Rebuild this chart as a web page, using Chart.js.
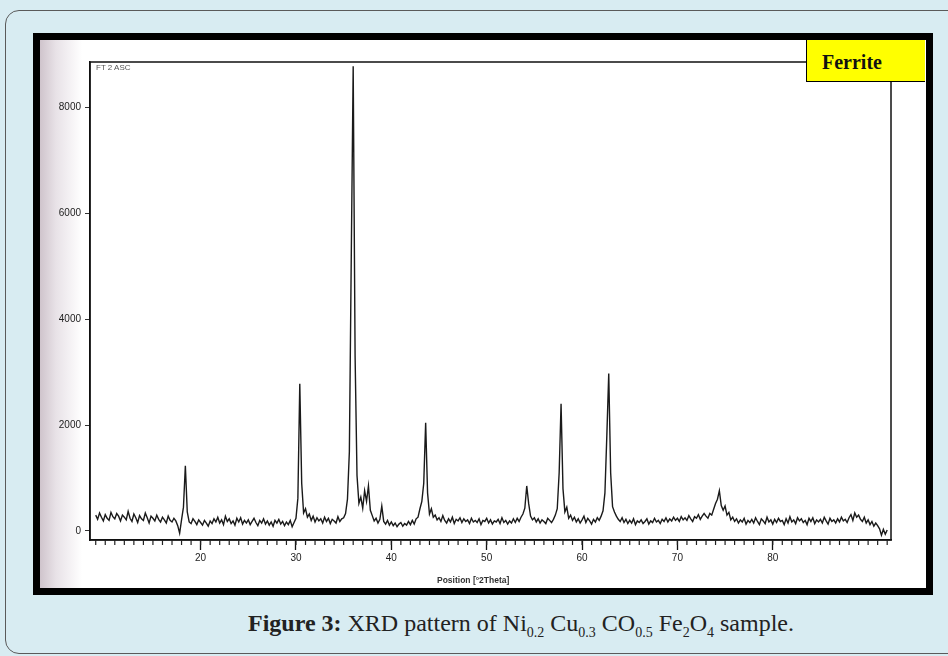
<!DOCTYPE html>
<html>
<head>
<meta charset="utf-8">
<script src="https://cdn.jsdelivr.net/npm/chart.js@4.4.1/dist/chart.umd.min.js"></script>
<style>
  body { margin:0; width:948px; height:656px; background:#d8ecf2; position:relative; overflow:hidden; }
  .card { position:absolute; left:5px; top:10px; width:970px; height:642px; border:1px solid #5a5a5a; border-radius:14px; }
  .frame { position:absolute; left:33px; top:33px; width:886px; height:548px; border:7px solid #000;
           background:linear-gradient(to right, #cfc4cc 0px, #e8e2e7 16px, #ffffff 42px); }
  #xrd { position:absolute; left:0; top:0; }
  .ferrite { position:absolute; left:766px; top:0px; width:119px; height:42px; background:#ffff00;
             border-left:1px solid #000; border-bottom:1px solid #000;
             font:bold 20px "Liberation Serif", serif; line-height:44px; padding-left:15px; box-sizing:border-box; color:#111; }
  .ft { position:absolute; left:56px; top:23px; font:8px "Liberation Sans", sans-serif; color:#555; }
  .xtitle { position:absolute; left:397px; top:535px; font:bold 8.5px "Liberation Sans", sans-serif; color:#333; }
  .caption { position:absolute; left:0; width:1042px; text-align:center; top:610px; font:24px "Liberation Serif", serif; color:#222; }
  .caption sub { font-size:14px; vertical-align:-6px; line-height:0; }
</style>
</head>
<body>
<div class="card"></div>
<div class="frame">
  <canvas id="xrd" width="886" height="548"></canvas>
  <div class="ft">FT 2 ASC</div>
  <div class="xtitle">Position [°2Theta]</div>
  <div class="ferrite">Ferrite</div>
</div>
<div class="caption"><b>Figure 3:</b> XRD pattern of Ni<sub>0.2</sub> Cu<sub>0.3</sub> CO<sub>0.5</sub> Fe<sub>2</sub>O<sub>4</sub> sample.</div>

<script>
// scan: 2theta from 9.0 to 92.0 in steps of 0.2 deg
var scanStart = 9.0;
var scanStep = 0.2;
// intensity (counts), one row per degree
var counts = [
  300, 220, 340, 260, 190,   // 9
  310, 240, 200, 350, 270,   // 10
  230, 330, 280, 190, 300,
  260, 210, 370, 240, 180,
  320, 250, 160, 290, 230,
  200, 340, 250, 150, 280,
  240, 190, 300, 220, 170,   // 15
  260, 210, 150, 280, 200,
  170, 240, 190, 100, -40,
  210, 450, 1230, 360, 170,  // 18
  140, 230, 180, 120, 210,
  160, 110, 200, 150, 90,    // 20
  190, 140, 230, 170, 260,
  150, 210, 120, 280, 180,
  230, 140, 190, 110, 240,
  170, 250, 130, 200, 150,
  210, 120, 180, 240, 160,   // 25
  100, 200, 150, 230, 130,
  190, 110, 170, 90, 200,
  150, 220, 130, 180, 100,
  170, 120, 200, 80, 160,
  240, 620, 2780, 900, 340,  // 30
  420, 260, 320, 200, 280,
  170, 250, 190, 230, 150,
  260, 180, 240, 140, 220,
  190, 150, 270, 180, 230,
  250, 330, 600, 1500, 5200, // 35
  8770, 3300, 1050, 520, 640,
  430, 760, 560, 850, 390,
  290, 190, 240, 150, 220,
  470, 180, 130, 200, 110,
  170, 100, 150, 80, 130,    // 40
  160, 90, 140, 110, 180,
  120, 200, 130, 230, 260,
  420, 560, 900, 2040, 720,
  320, 420, 260, 300, 210,
  250, 180, 290, 200, 150,   // 45
  230, 170, 260, 140, 220,
  190, 250, 160, 230, 180,
  210, 140, 240, 170, 200,
  160, 230, 120, 200, 180,
  240, 150, 210, 130, 190,   // 50
  170, 220, 140, 250, 160,
  200, 130, 190, 150, 230,
  160, 240, 180, 260, 320,
  430, 850, 520, 280, 210,
  250, 170, 230, 150, 210,   // 55
  180, 140, 240, 200, 160,
  220, 300, 420, 1100, 2400,
  800, 360, 450, 240, 300,
  200, 260, 170, 230, 150,
  210, 280, 160, 240, 190,   // 60
  130, 220, 170, 250, 200,
  280, 380, 720, 1800, 2970,
  1100, 460, 360, 280, 220,
  180, 250, 160, 220, 140,
  200, 150, 230, 120, 190,   // 65
  160, 210, 140, 180, 230,
  130, 190, 160, 240, 170,
  200, 140, 220, 180, 250,
  170, 230, 190, 260, 200,
  240, 180, 270, 210, 250,   // 70
  200, 290, 230, 180, 270,
  240, 310, 220, 280, 330,
  280, 240, 330, 300, 410,
  520, 600, 760, 480, 390,
  470, 300, 350, 210, 260,   // 75
  180, 230, 150, 210, 170,
  240, 130, 200, 160, 220,
  150, 250, 180, 120, 230,
  190, 140, 260, 170, 210,
  130, 220, 160, 240, 180,   // 80
  200, 120, 230, 150, 270,
  170, 210, 140, 250, 190,
  230, 160, 200, 120, 240,
  180, 250, 140, 210, 170,
  220, 150, 260, 190, 130,   // 85
  240, 180, 210, 150, 230,
  170, 260, 190, 220, 160,
  250, 310, 200, 340, 260,
  300, 220, 180, 260, 150,
  210, 120, 180, 90, 150,    // 90
  100, 40, -80, 30, -60,
  20
];
var yTicks = [0, 2000, 4000, 6000, 8000];
var xTicks = [20, 30, 40, 50, 60, 70, 80];
var xMinorFrom = 9, xMinorTo = 92;   // one small tick per degree

var points = counts.map(function(c, i) {
  return { x: Math.round((scanStart + i * scanStep) * 10) / 10, y: c };
});

var tickFont = { family: 'Liberation Sans', size: 10 };

// box around the plot + minor ticks every degree on the 2theta axis
var framePlugin = {
  id: 'frame',
  afterDraw: function(chart) {
    var c = chart.ctx, a = chart.chartArea, xs = chart.scales.x;
    c.save();
    c.strokeStyle = '#111';
    c.lineWidth = 1.5;
    c.strokeRect(a.left, a.top, a.right - a.left, a.bottom - a.top);
    c.lineWidth = 1.2;
    c.strokeStyle = '#222';
    for (var v = xMinorFrom; v <= xMinorTo; v++) {
      var px = xs.getPixelForValue(v);
      c.beginPath();
      c.moveTo(px, a.bottom);
      c.lineTo(px, a.bottom + 5);
      c.stroke();
    }
    c.restore();
  }
};

var ctx = document.getElementById('xrd');
var xrd = new Chart(ctx, {
  type: 'line',
  data: {
    datasets: [{
      data: points,
      borderColor: '#1a1a1a',
      borderWidth: 1.4,
      pointRadius: 0,
      tension: 0,
      fill: false
    }]
  },
  options: {
    responsive: false,
    animation: false,
    layout: { padding: { left: 0, top: 22, right: 35, bottom: 0 } },
    plugins: { legend: { display: false }, tooltip: { enabled: false } },
    scales: {
      x: {
        type: 'linear',
        min: 8.4,
        max: 92.4,
        afterFit: function(s) { s.height = 48; },
        afterBuildTicks: function(s) { s.ticks = xTicks.map(function(v) { return { value: v }; }); },
        grid: { drawOnChartArea: false, tickLength: 10, tickColor: '#111', tickWidth: 1.3 },
        border: { color: '#111', width: 1.5 },
        ticks: {
          autoSkip: false,
          maxRotation: 0,
          padding: 2,
          color: '#222',
          font: tickFont,
          callback: function(v) { return String(v); }
        }
      },
      y: {
        min: -170,
        max: 8850,
        afterFit: function(s) { s.width = 50; },
        afterBuildTicks: function(s) { s.ticks = yTicks.map(function(v) { return { value: v }; }); },
        grid: { drawOnChartArea: false, tickLength: 5, tickColor: '#333' },
        border: { color: '#111', width: 1.5 },
        ticks: { padding: 4, color: '#222', font: tickFont, callback: function(v) { return String(v); } }
      }
    }
  },
  plugins: [framePlugin]
});
</script>
</body>
</html>
